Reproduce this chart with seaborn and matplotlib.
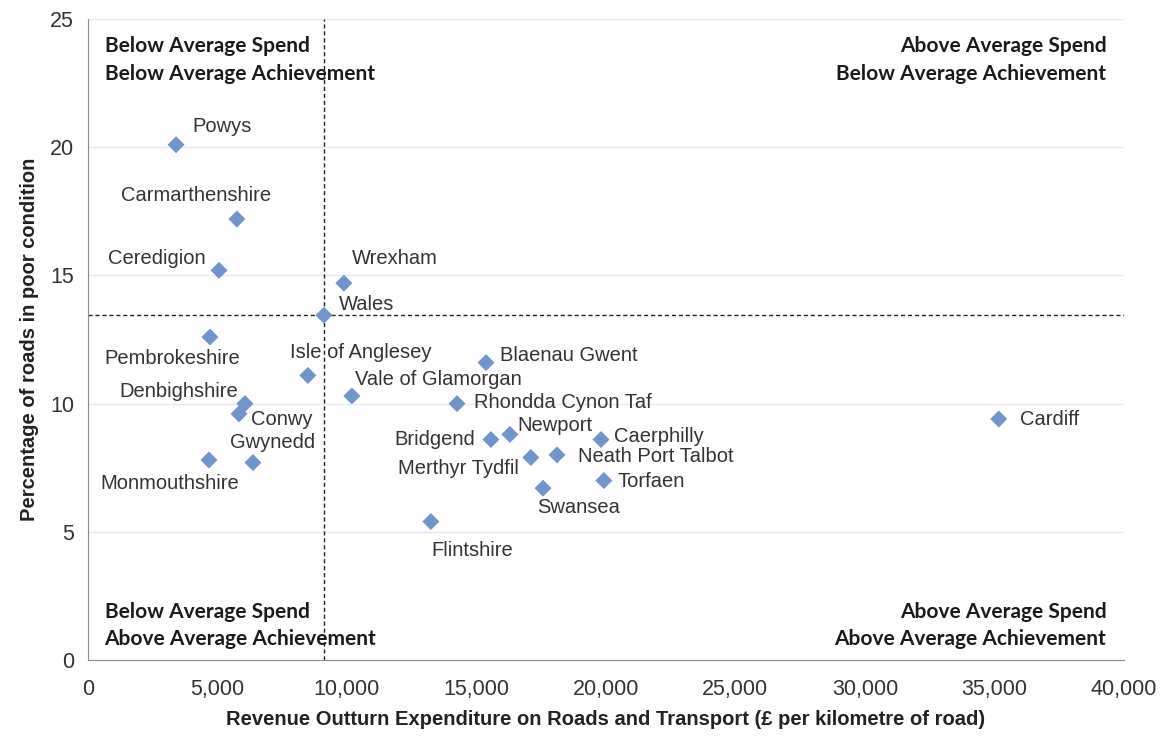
import pandas as pd
import matplotlib
matplotlib.use("Agg")
import matplotlib.pyplot as plt
import seaborn as sns
from matplotlib.ticker import FuncFormatter, MultipleLocator

# Data
authorities = ['Powys', 'Carmarthenshire', 'Ceredigion', 'Wrexham', 'Wales',
               'Pembrokeshire', 'Isle of Anglesey', 'Blaenau Gwent', 'Vale of Glamorgan',
               'Rhondda Cynon Taf', 'Denbighshire', 'Conwy', 'Cardiff', 'Newport',
               'Bridgend', 'Caerphilly', 'Merthyr Tydfil', 'Neath Port Talbot',
               'Gwynedd', 'Monmouthshire', 'Torfaen', 'Swansea', 'Flintshire']
spend = [3400, 5750, 5060, 9880, 9110,
         4710, 8490, 15370, 10190,
         14250, 6060, 5830, 35170, 16290,
         15560, 19810, 17100, 18110,
         6370, 4670, 19920, 17570, 13240]
poor_pct = [20.1, 17.2, 15.2, 14.7, 13.45,
            12.6, 11.1, 11.6, 10.3,
            10.0, 10.0, 9.6, 9.4, 8.8,
            8.6, 8.6, 7.9, 8.0,
            7.7, 7.8, 7.0, 6.7, 5.4]

# label placement: (dx px, dy px, horizontal alignment)
label_pos = {
    'Powys': (16, 18, 'left'), 'Carmarthenshire': (-41, 24, 'center'),
    'Ceredigion': (-13, 12, 'right'), 'Wrexham': (8, 25, 'left'),
    'Wales': (15, 11, 'left'), 'Pembrokeshire': (-38, -22, 'center'),
    'Isle of Anglesey': (53, 23, 'center'), 'Blaenau Gwent': (14, 7, 'left'),
    'Vale of Glamorgan': (3, 16, 'left'), 'Rhondda Cynon Taf': (17, 1, 'left'),
    'Denbighshire': (-7, 12, 'right'), 'Conwy': (12, -6, 'left'),
    'Cardiff': (21, 0, 'left'), 'Newport': (8, 9, 'left'),
    'Bridgend': (-16, 0, 'right'), 'Caerphilly': (13, 3, 'left'),
    'Merthyr Tydfil': (-12, -11, 'right'), 'Neath Port Talbot': (21, -2, 'left'),
    'Gwynedd': (20, 20, 'center'), 'Monmouthshire': (-39, -23, 'center'),
    'Torfaen': (14, -1, 'left'), 'Swansea': (36, -19, 'center'),
    'Flintshire': (41, -29, 'center'),
}

df = pd.DataFrame({'Authority': authorities, 'Spend': spend, 'Poor': poor_pct})
wales_spend = df.loc[df['Authority'] == 'Wales', 'Spend'].iloc[0]
wales_poor = df.loc[df['Authority'] == 'Wales', 'Poor'].iloc[0]

sns.set_style("white")
plt.rcParams['font.family'] = ['Liberation Sans', 'DejaVu Sans']

fig = plt.figure(figsize=(11.61, 7.36), dpi=100)
ax = fig.add_axes([0.0758, 0.1033, 0.8922, 0.8707])

sns.scatterplot(data=df, x='Spend', y='Poor', marker='D', s=75,
                color='#7094CB', edgecolor='none', ax=ax, zorder=3)

ax.set_xlim(0, 40000)
ax.set_ylim(0, 25)
ax.xaxis.set_major_locator(MultipleLocator(5000))
ax.yaxis.set_major_locator(MultipleLocator(5))
ax.xaxis.set_major_formatter(FuncFormatter(lambda v, p: f'{int(v):,}'))
ax.grid(axis='y', color='#E6E8F2', linewidth=1)
ax.set_axisbelow(True)

for side in ['top', 'right']:
    ax.spines[side].set_visible(False)
for side in ['left', 'bottom']:
    ax.spines[side].set_color('#8C8C8C')
ax.tick_params(axis='both', direction='out', length=7, color='#8C8C8C',
               labelsize=15.5, labelcolor='#333333')
ax.tick_params(axis='x', pad=7)
ax.tick_params(axis='y', pad=3)

# average reference lines
ax.axvline(wales_spend, color='#222222', linestyle=(0, (3, 2)), linewidth=1, zorder=2)
ax.axhline(wales_poor, color='#222222', linestyle=(0, (3, 2)), linewidth=1, zorder=2)

for name, x, y in zip(df['Authority'], df['Spend'], df['Poor']):
    dx, dy, ha = label_pos[name]
    ax.annotate(name, (x, y), xytext=(dx, dy), textcoords='offset pixels',
                ha=ha, va='center', fontsize=14.5, color='#333333')

quad_font = dict(fontsize=15, fontweight='bold', color='#1a1a1a',
                 family=['Lato', 'DejaVu Sans'], linespacing=1.45,
                 transform=ax.transAxes)
ax.text(0.016, 0.973, 'Below Average Spend\nBelow Average Achievement',
        ha='left', va='top', **quad_font)
ax.text(0.983, 0.973, 'Above Average Spend\nBelow Average Achievement',
        ha='right', va='top', multialignment='right', **quad_font)
ax.text(0.016, 0.017, 'Below Average Spend\nAbove Average Achievement',
        ha='left', va='bottom', **quad_font)
ax.text(0.983, 0.017, 'Above Average Spend\nAbove Average Achievement',
        ha='right', va='bottom', multialignment='right', **quad_font)

ax.set_xlabel('Revenue Outturn Expenditure on Roads and Transport (£ per kilometre of road)',
              fontsize=14.5, fontweight='bold', color='#222222', labelpad=7)
ax.set_ylabel('Percentage of roads in poor condition',
              fontsize=14.5, fontweight='bold', color='#222222', labelpad=8)

fig.savefig('out.png', dpi=100)
